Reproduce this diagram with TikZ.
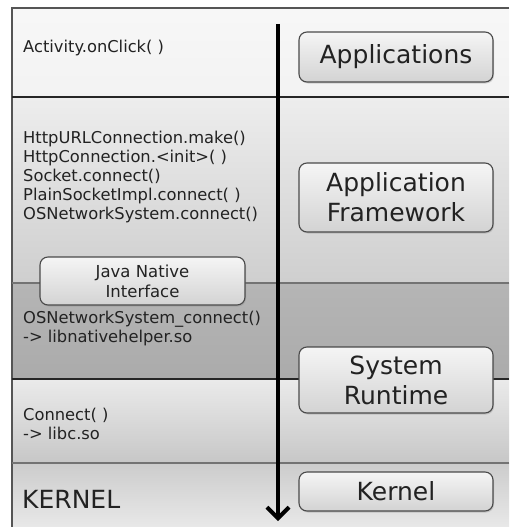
\documentclass[tikz,border=0pt]{standalone}
\usepackage{fontspec}
\setmainfont{DejaVu Sans}
\usetikzlibrary{arrows.meta,shadows,positioning}

\definecolor{frameline}{HTML}{555555}
\definecolor{boxline}{HTML}{4A4A4A}
\definecolor{boxtop}{HTML}{F5F5F5}
\definecolor{boxbot}{HTML}{D3D3D3}
\definecolor{txt}{HTML}{222222}

\begin{document}
\begin{tikzpicture}[x=1pt,y=-1pt,
   box/.style={draw=boxline,line width=1.1pt,rounded corners=8pt,
      top color=boxtop,bottom color=boxbot,text=txt,align=center,
      inner sep=0pt,font=\fontsize{25}{30}\selectfont,
      drop shadow={shadow xshift=1pt,shadow yshift=-1.5pt,opacity=.3}},
   call/.style={anchor=north west,inner sep=0pt,align=left,text=txt,
      font=\fontsize{16.3}{19}\selectfont},
   sep/.style={line width=1.5pt,black!85},
   seplight/.style={line width=2pt,black!55}]
   \useasboundingbox (0,0) rectangle (509,527);

   % layers, top to bottom
   \shade[top color=black!3,bottom color=black!5]  (12,8)   rectangle (509,97);
   \shade[top color=black!7,bottom color=black!19] (12,97)  rectangle (509,283);
   \shade[top color=black!29,bottom color=black!33] (12,283) rectangle (509,379);
   \shade[top color=black!8,bottom color=black!22] (12,379) rectangle (509,463);
   \shade[top color=black!20,bottom color=black!9] (12,463) rectangle (509,527);

   \draw[line width=2pt,frameline] (509,8) -- (12,8) -- (12,527);
   \draw[sep]      (12,97)  -- (509,97);
   \draw[seplight] (12,283) -- (509,283);
   \draw[sep]      (12,379) -- (509,379);
   \draw[seplight] (12,463) -- (509,463);

   % call path
   \node[call] (click) at (23,39.5) {Activity.onClick( )};
   \node[call] (java) at (23,130.5) {HttpURLConnection.make()\\
      HttpConnection.<init>( )\\ Socket.connect()\\
      PlainSocketImpl.connect( )\\ OSNetworkSystem.connect()};
   \node[call] (native) at (23,310.5) {OSNetworkSystem\_connect()\\
      -> libnativehelper.so};
   \node[call] (libc) at (23,407.5) {Connect( )\\ -> libc.so};
   \node[call,font=\fontsize{25}{30}\selectfont] (kernel) at (22,490) {KERNEL};

   \coordinate (start) at (278,24);
   \coordinate (finish) at (278,521);
   \draw[line width=4pt,-{Straight Barb[length=11pt,width=22pt]}] (start) -- (finish);

   % platform layers
   \node[box,minimum width=194pt,minimum height=50pt] (apps) at (396,57) {Applications};
   \node[box,minimum width=194pt,minimum height=69pt] (fw) at (396,197.5) {Application\\ Framework};
   \node[box,minimum width=194pt,minimum height=66pt] (rt) at (396,380) {System\\ Runtime};
   \node[box,minimum width=194pt,minimum height=39pt] (kern) at (396,491.5) {Kernel};
   \node[box,minimum width=205pt,minimum height=48pt,
      font=\fontsize{16.5}{20}\selectfont] (jni) at (142.5,281) {Java Native\\ Interface};
\end{tikzpicture}
\end{document}
